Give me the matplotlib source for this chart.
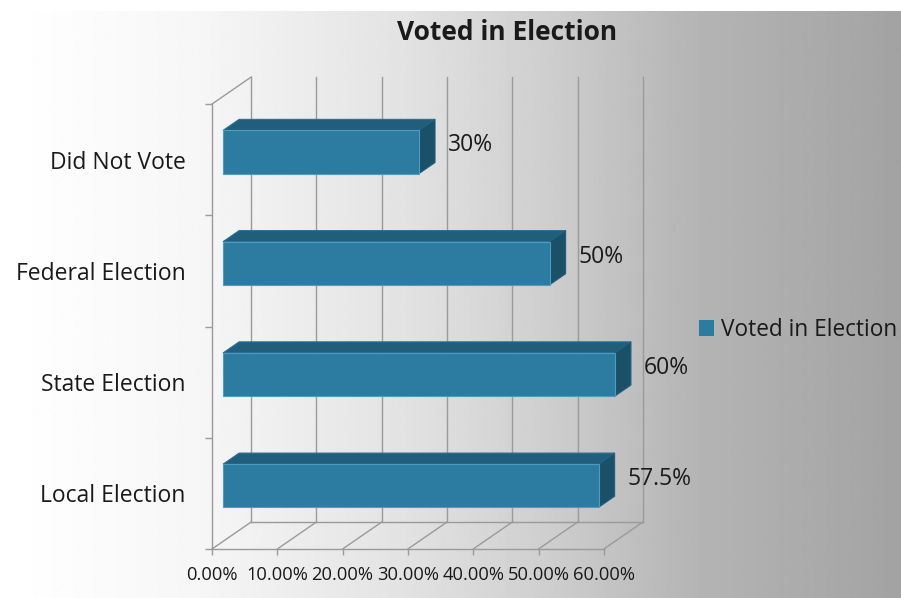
import numpy as np
import matplotlib
matplotlib.use("Agg")
import matplotlib.pyplot as plt
from matplotlib.patches import Polygon, Patch

# ---- data ----
categories = ["Local Election", "State Election", "Federal Election", "Did Not Vote"]
values = [57.5, 60.0, 50.0, 30.0]          # percent
series_name = "Voted in Election"
title = "Voted in Election"
xticks = [0, 10, 20, 30, 40, 50, 60]
xtick_labels = ["0.00%", "10.00%", "20.00%", "30.00%", "40.00%", "50.00%", "60.00%"]

plt.rcParams['font.family'] = ['Open Sans', 'DejaVu Sans']

W, H = 901, 598
fig = plt.figure(figsize=(W / 100, H / 100), dpi=100)

# ---- background gradient ----
bg = fig.add_axes([0, 0, 1, 1])
bg.set_xlim(0, W)
bg.set_ylim(H, 0)
bg.axis("off")
gx = [32, 200, 400, 550, 650, 700, 901]
gv = [254, 246, 227, 206, 188, 180, 163]
xs = np.arange(32, W + 1)
row = np.interp(xs, gx, gv) / 255.0
img = np.tile(row, (10, 1))
bg.imshow(img, cmap="gray", vmin=0, vmax=1, extent=[32, W, H, 11], aspect="auto",
          interpolation="bilinear", zorder=0)

# ---- main 3D-like axes ----
left_px, right_px, bottom_px, top_px = 212, 643, 549, 77
ax = fig.add_axes([left_px / W, 1 - bottom_px / H, (right_px - left_px) / W, (bottom_px - top_px) / H])
ax.patch.set_alpha(0)
n = len(categories)
dx, dy = 6.0, 0.243           # depth offset of back wall (data units)
xmax = xticks[-1]
ax.set_xlim(0, xmax + dx)
ax.set_ylim(0, n + dy)
for s in ax.spines.values():
    s.set_visible(False)

gc = "#9a9a9a"
lw = 1.0
# walls
ax.plot([0, 0], [0, n], color=gc, lw=lw, clip_on=False)
ax.plot([0, xmax], [0, 0], color=gc, lw=lw, clip_on=False)
ax.plot([dx, dx], [dy, n + dy], color=gc, lw=lw, clip_on=False)
ax.plot([dx, xmax + dx], [dy, dy], color=gc, lw=lw, clip_on=False)
ax.plot([0, dx], [n, n + dy], color=gc, lw=lw, clip_on=False)
for t in xticks:
    ax.plot([t, t + dx], [0, dy], color=gc, lw=lw, clip_on=False)
    if t > 0:
        ax.plot([t + dx, t + dx], [dy, n + dy], color=gc, lw=lw, clip_on=False)

# bars
f0, f1 = 0.282, 0.692
h = 0.388
c_front = "#2C7BA0"
c_top = "#215E7C"
c_side = "#1B5069"
for i, v in enumerate(values):
    c = i + 0.5
    x0 = f0 * dx
    y0 = c - h / 2 + f0 * dy
    y1 = c + h / 2 + f0 * dy
    ddx = (f1 - f0) * dx
    ddy = (f1 - f0) * dy
    top = Polygon([(x0, y1), (v + x0, y1), (v + x0 + ddx, y1 + ddy), (x0 + ddx, y1 + ddy)],
                  closed=True, facecolor=c_top, edgecolor="#2a6f90", lw=0.8, zorder=3)
    side = Polygon([(v + x0, y0), (v + x0, y1), (v + x0 + ddx, y1 + ddy), (v + x0 + ddx, y0 + ddy)],
                   closed=True, facecolor=c_side, edgecolor="#245f7d", lw=0.8, zorder=3)
    front = Polygon([(x0, y0), (v + x0, y0), (v + x0, y1), (x0, y1)],
                    closed=True, facecolor=c_front, edgecolor="#4f9cc0", lw=0.8, zorder=4)
    for p in (top, side, front):
        ax.add_patch(p)
    ax.text(v + f1 * dx + 2.0, c + f1 * dy - 0.04, f"{v:g}%", fontsize=16.5, color="#1a1a1a",
            ha="left", va="center", clip_on=False, zorder=5)

# ticks
ax.set_xticks(xticks)
ax.set_xticklabels(xtick_labels, fontsize=13.2, color="#1a1a1a")
ax.tick_params(axis="x", direction="out", length=4, width=1, color=gc, pad=8)
ax.set_yticks([i + 0.5 for i in range(n)])
ax.set_yticklabels(categories, fontsize=16.5, color="#1a1a1a")
ax.tick_params(axis="y", length=0, pad=19)
ax.set_yticks(list(range(n + 1)), minor=True)
ax.tick_params(axis="y", which="minor", direction="out", length=5, width=1, color=gc)

# title
fig.text(507 / W, 1 - 32 / H, title, fontsize=19, fontweight="bold", ha="center", va="center",
         color="#1a1a1a")

# legend
fig.legend(handles=[Patch(facecolor=c_front, edgecolor="none")], labels=[series_name],
           loc="center left", bbox_to_anchor=(699 / W, 1 - 330 / H), frameon=False,
           fontsize=16.3, handlelength=0.65, handleheight=0.65, handletextpad=0.3,
           borderpad=0, borderaxespad=0, labelcolor="#1a1a1a")

fig.savefig("out.png", dpi=100)
